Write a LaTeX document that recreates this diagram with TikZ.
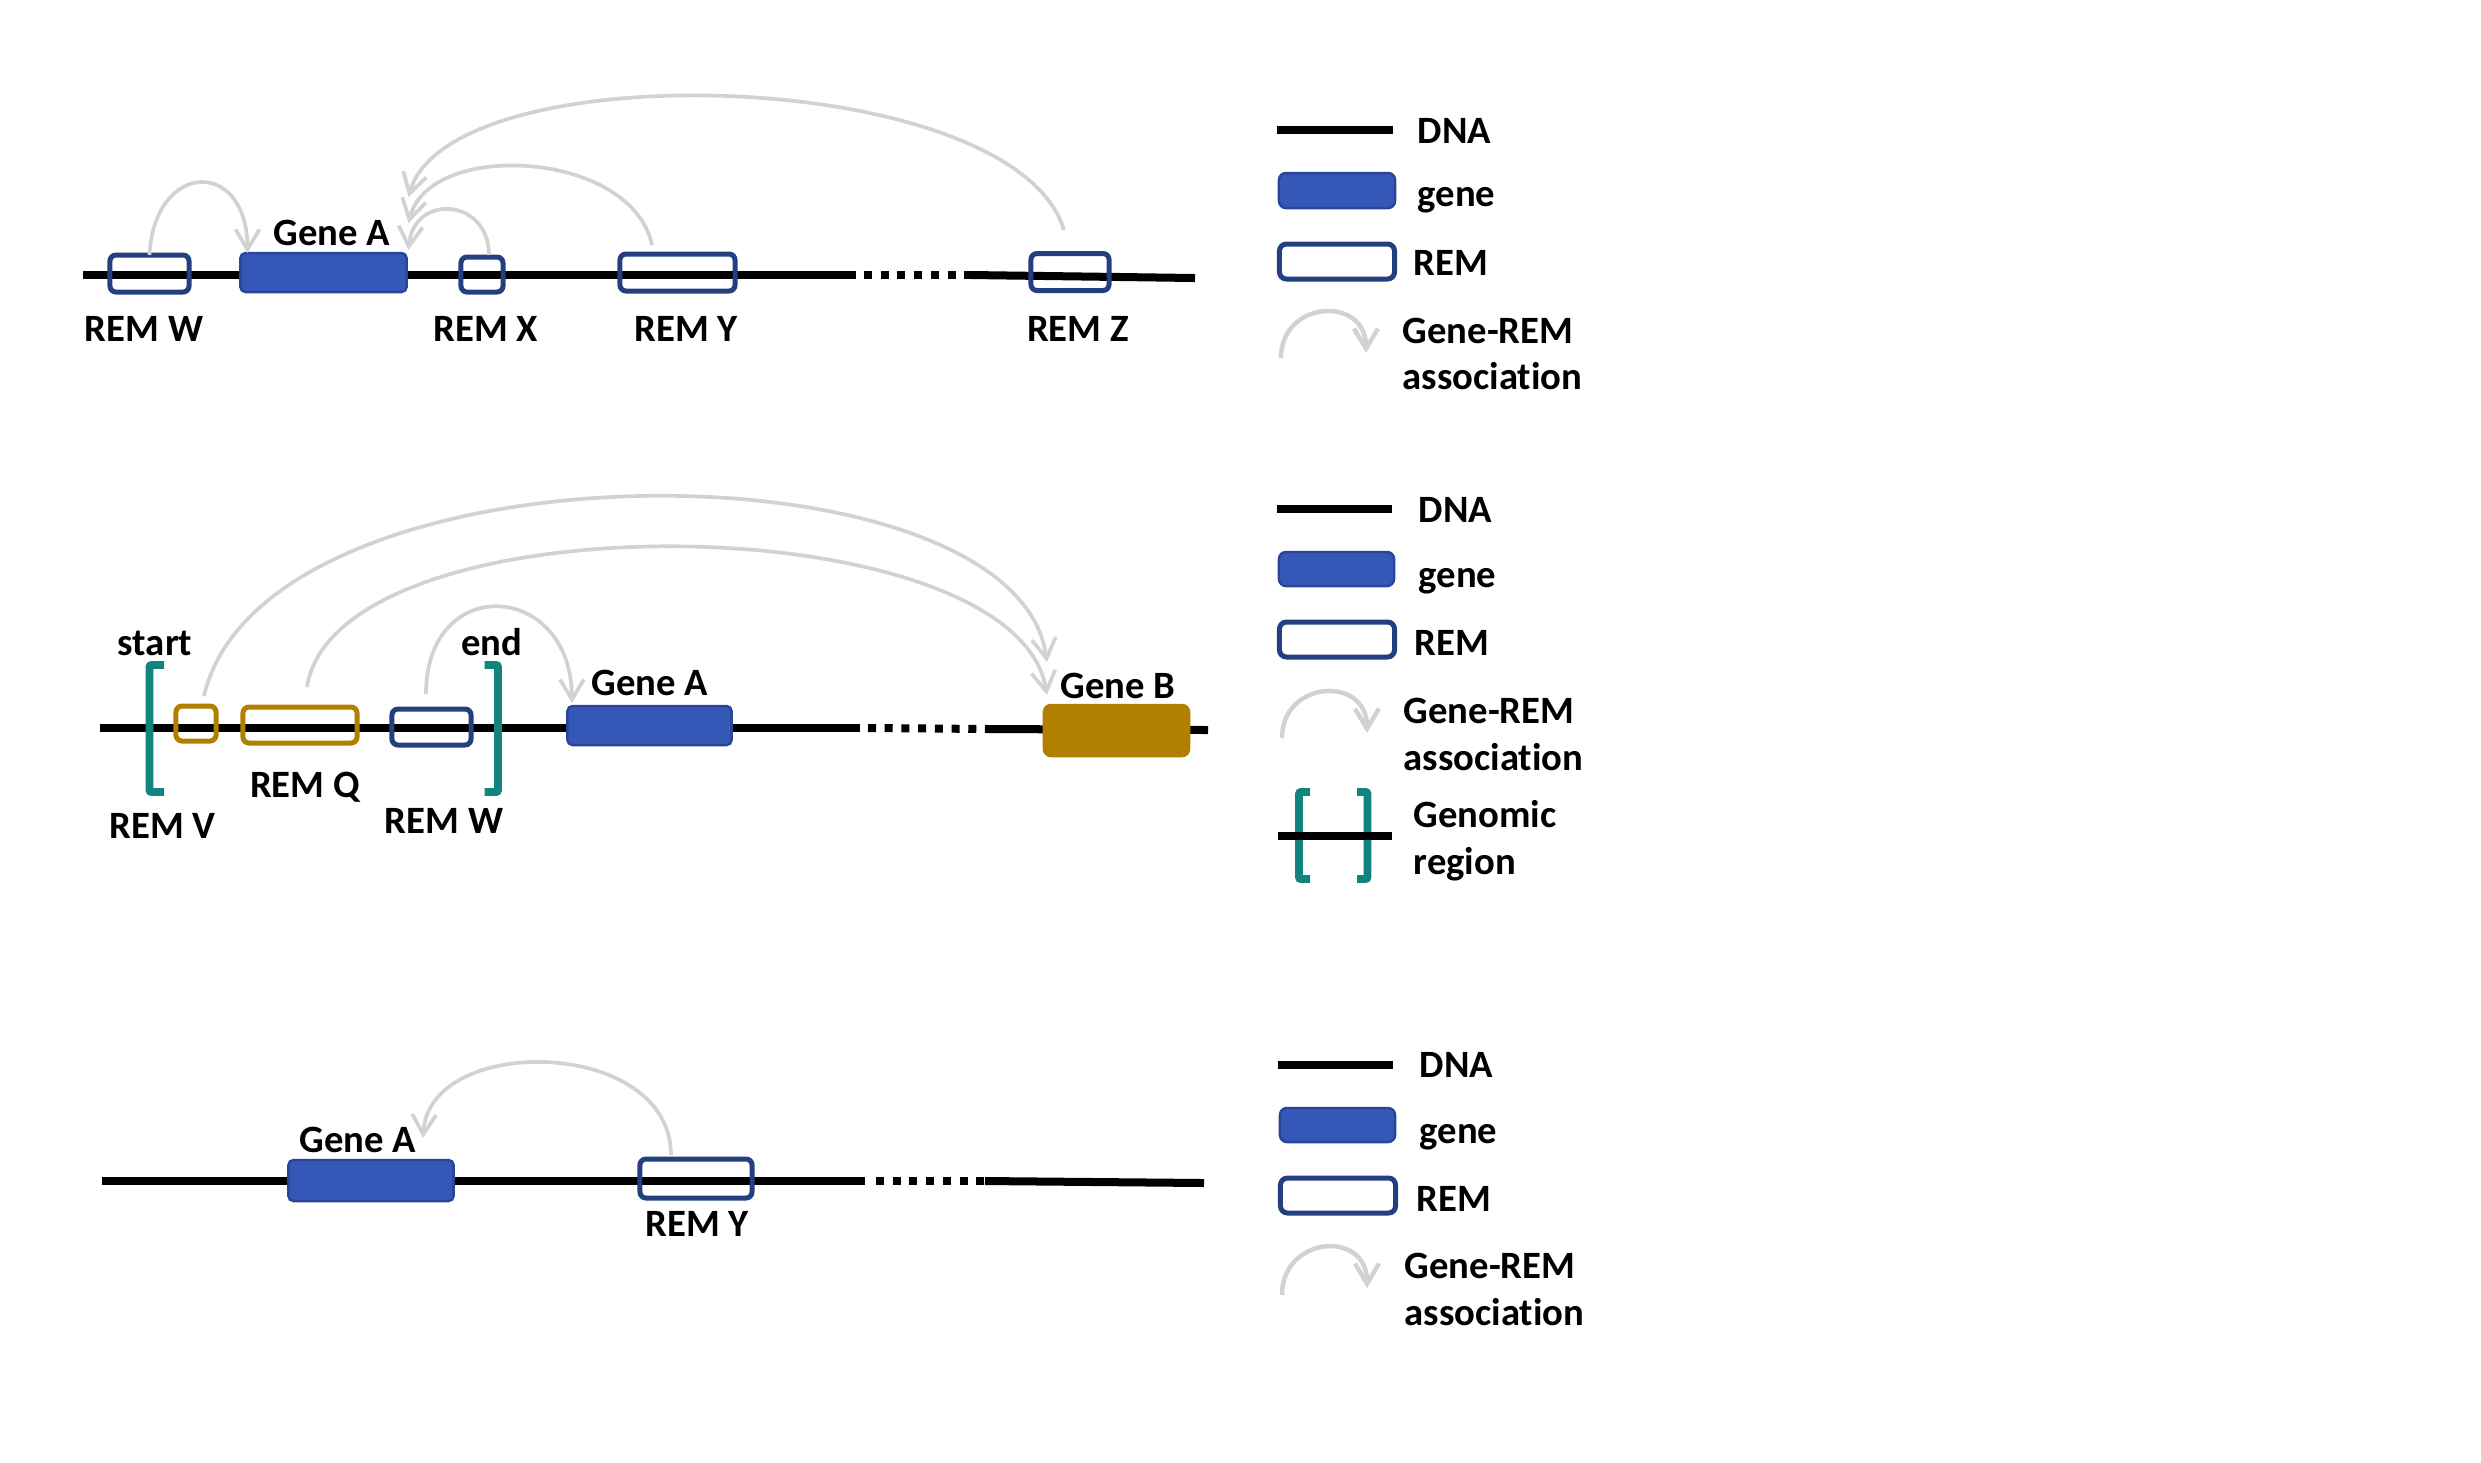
\documentclass[tikz,border=0pt]{standalone}
\usepackage{fontspec}
\setmainfont{Carlito}[Ligatures=NoCommon]
\usetikzlibrary{arrows.meta}
\definecolor{genefill}{RGB}{53,88,184}
\definecolor{genedraw}{RGB}{41,70,150}
\definecolor{remnavy}{RGB}{35,63,127}
\definecolor{remgold}{RGB}{178,128,0}
\definecolor{regionteal}{RGB}{18,132,128}
\definecolor{assocgray}{RGB}{210,210,210}
\tikzset{
	dna/.style={line width=0.08cm, black},
	dnadots/.style={dna, dash pattern=on 0.08cm off 0.087cm},
	genebox/.style={draw=genedraw, fill=genefill, line width=0.025cm, rounded corners=0.05cm, outer sep=0pt, inner sep=0pt},
	rembox/.style={draw=remnavy, line width=0.05cm, rounded corners=0.06cm, outer sep=0pt, inner sep=0pt},
	remgoldbox/.style={rembox, draw=remgold},
	genegoldbox/.style={genebox, draw=remgold, fill=remgold, rounded corners=0.07cm},
	assoc/.style={draw=assocgray, line width=0.037cm, -{Straight Barb[length=0.2cm,width=0.24cm]}},
	keyassoc/.style={assoc, line width=0.045cm},
	region/.style={draw=regionteal, line width=0.078cm, rounded corners=0.02cm},
	lbl/.style={font=\fontsize{11}{13}\selectfont\bfseries, inner sep=0pt, anchor=base},
	keytext/.style={lbl, anchor=base west}
}
\begin{document}
\begin{tikzpicture}[x=0.01cm, y=-0.01cm]
				\useasboundingbox (0,0) rectangle (2481,1462);
				
				\path
				coordinate (dnaA1) at (83,275) coordinate (dnaA2) at (856,275)
				coordinate (dnaA3) at (864,275) coordinate (dnaA4) at (971,275)
				coordinate (dnaA5) at (1195,278);
				\draw[dna] (dnaA1) -- (dnaA2);
				\draw[dnadots] (dnaA3) -- (dnaA4);
				\draw[dna] (dnaA4) -- (dnaA5);
				
				\node[rembox, minimum width=0.79cm, minimum height=0.37cm] (remW1) at (149.5,273.5) {};
				\node[genebox, minimum width=1.66cm, minimum height=0.39cm] (geneA1) at (323.5,272.5) {};
				\node[rembox, minimum width=0.42cm, minimum height=0.35cm] (remX1) at (482,274.5) {};
				\node[rembox, minimum width=1.15cm, minimum height=0.37cm] (remY1) at (677.5,272.5) {};
				\node[rembox, minimum width=0.78cm, minimum height=0.37cm] (remZ1) at (1070,272) {};
				
				\draw[assoc] (remW1.north) .. controls +(5,-95) and +(0,-95) .. ([shift={(7,0)}]geneA1.north west);
				\draw[assoc] ([shift={(7,-2)}]remX1.north) .. controls +(0,-57) and +(5,-57) .. ([shift={(2,-3)}]geneA1.north east);
				\draw[assoc] ([shift={(-25.5,-9)}]remY1.north) .. controls +(-20,-95) and +(20,-84) .. ([shift={(2,-30)}]geneA1.north east);
				\draw[assoc] ([shift={(-6,-23.5)}]remZ1.north) .. controls +(-50,-165) and +(40,-146) .. ([shift={(2,-56)}]geneA1.north east);
				
				\node[lbl] (lblRemW1) at (144,341) {REM W};
				\node[lbl] (lblGeneA1) at (332,245) {Gene A};
				\node[lbl] (lblRemX1) at (486,341) {REM X};
				\node[lbl] (lblRemY1) at (686,341) {REM Y};
				\node[lbl] (lblRemZ1) at (1078,341) {REM Z};
				
				\path
				coordinate (dnaB1) at (100,728) coordinate (dnaB2) at (860,728)
				coordinate (dnaB3) at (868,728) coordinate (dnaB4) at (990,729)
				coordinate (dnaB5) at (1208,730);
				\draw[dna] (dnaB1) -- (dnaB2);
				\draw[dnadots] (dnaB3) -- (dnaB4);
				\draw[dna] (dnaB4) -- (dnaB5);
				
				\draw[region] (164,665) -- (149.5,665) -- (149.5,792) -- (164,792);
				\draw[region] (484.5,665) -- (498,665) -- (498,792) -- (484.5,792);
				
				\node[remgoldbox, minimum width=0.40cm, minimum height=0.35cm] (remV2) at (196,723.5) {};
				\node[remgoldbox, minimum width=1.14cm, minimum height=0.36cm] (remQ2) at (300,725) {};
				\node[rembox, minimum width=0.79cm, minimum height=0.36cm] (remW2) at (431.5,727) {};
				\node[genebox, minimum width=1.64cm, minimum height=0.39cm] (geneA2) at (649.5,725.5) {};
				\node[genegoldbox, minimum width=1.45cm, minimum height=0.51cm] (geneB2) at (1116.5,730.5) {};
				
				\draw[assoc] ([shift={(8,-10)}]remV2.north) .. controls +(60,-260) and +(-30,-226) .. ([shift={(3,-43)}]geneB2.north west);
				\draw[assoc] ([shift={(7,-20)}]remQ2.north) .. controls +(30,-192) and +(-30,-192) .. ([shift={(3,-10)}]geneB2.north west);
				\draw[assoc] ([shift={(-5.5,-15)}]remW2.north) .. controls +(0,-122) and +(0,-122) .. ([shift={(4.5,-3)}]geneA2.north west);
				
				\node[lbl] (lblStart2) at (155,655) {start};
				\node[lbl] (lblEnd2) at (492,655) {end};
				\node[lbl] (lblRemV2) at (162.5,838) {REM V};
				\node[lbl] (lblRemQ2) at (305,797) {REM Q};
				\node[lbl] (lblRemW2) at (444,833) {REM W};
				\node[lbl] (lblGeneA2) at (650,695) {Gene A};
				\node[lbl] (lblGeneB2) at (1118,698) {Gene B};
				
				\path
				coordinate (dnaC1) at (102,1181) coordinate (dnaC2) at (865,1181)
				coordinate (dnaC3) at (876,1181) coordinate (dnaC4) at (985,1181)
				coordinate (dnaC5) at (1204,1183);
				\draw[dna] (dnaC1) -- (dnaC2);
				\draw[dnadots] (dnaC3) -- (dnaC4);
				\draw[dna] (dnaC4) -- (dnaC5);
				
				\node[genebox, minimum width=1.65cm, minimum height=0.41cm] (geneA3) at (371,1180.5) {};
				\node[rembox, minimum width=1.12cm, minimum height=0.39cm] (remY3) at (696,1178.5) {};
				
				\draw[assoc] ([shift={(-25,-4)}]remY3.north) .. controls +(0,-118) and +(5,-105) .. ([shift={(-30.5,-22)}]geneA3.north east);
				
				\node[lbl] (lblGeneA3) at (358,1152) {Gene A};
				\node[lbl] (lblRemY3) at (697,1236) {REM Y};
				
				\path coordinate (keyDnaA1) at (1277,130) coordinate (keyDnaA2) at (1393,130);
				\draw[dna] (keyDnaA1) -- (keyDnaA2);
				\node[keytext] (keyDnaTxtA) at (1417,143) {DNA};
				\node[genebox, rounded corners=0.07cm, minimum width=1.16cm, minimum height=0.35cm] (keyGeneA) at (1337,190.5) {};
				\node[keytext] (keyGeneTxtA) at (1417,206) {gene};
				\node[rembox, rounded corners=0.07cm, minimum width=1.15cm, minimum height=0.35cm] (keyRemA) at (1337,261.5) {};
				\node[keytext] (keyRemTxtA) at (1413,275) {REM};
				\path coordinate (keyAssocA1) at (1281,358) coordinate (keyAssocA2) at (1366,353);
				\draw[keyassoc] (keyAssocA1) .. controls +(0,-58) and +(0,-58) .. (keyAssocA2);
				\node[keytext] (keyAssocTxtA) at (1402,343) {Gene-REM};
				\node[keytext] (keyAssocTxtA2) at (1402,389) {association};
				
				\path coordinate (keyDnaB1) at (1277,509) coordinate (keyDnaB2) at (1392,509);
				\draw[dna] (keyDnaB1) -- (keyDnaB2);
				\node[keytext] (keyDnaTxtB) at (1418,522) {DNA};
				\node[genebox, rounded corners=0.07cm, minimum width=1.15cm, minimum height=0.34cm] (keyGeneB) at (1336.5,569) {};
				\node[keytext] (keyGeneTxtB) at (1418,587) {gene};
				\node[rembox, rounded corners=0.07cm, minimum width=1.15cm, minimum height=0.35cm] (keyRemB) at (1337,639.5) {};
				\node[keytext] (keyRemTxtB) at (1414,655) {REM};
				\path coordinate (keyAssocB1) at (1282,738) coordinate (keyAssocB2) at (1367,733);
				\draw[keyassoc] (keyAssocB1) .. controls +(0,-58) and +(0,-58) .. (keyAssocB2);
				\node[keytext] (keyAssocTxtB) at (1403,723) {Gene-REM};
				\node[keytext] (keyAssocTxtB2) at (1403,770) {association};
				\path coordinate (keyRegionB1) at (1278,836) coordinate (keyRegionB2) at (1392,836);
				\draw[region] (1310,792) -- (1299,792) -- (1299,879) -- (1310,879);
				\draw[region] (1357,792) -- (1367.5,792) -- (1367.5,879) -- (1357,879);
				\draw[dna] (keyRegionB1) -- (keyRegionB2);
				\node[keytext] (keyRegionTxtB) at (1413,827) {Genomic};
				\node[keytext] (keyRegionTxtB2) at (1413,874) {region};
				
				\path coordinate (keyDnaC1) at (1278,1065) coordinate (keyDnaC2) at (1393,1065);
				\draw[dna] (keyDnaC1) -- (keyDnaC2);
				\node[keytext] (keyDnaTxtC) at (1419,1077) {DNA};
				\node[genebox, rounded corners=0.07cm, minimum width=1.15cm, minimum height=0.34cm] (keyGeneC) at (1337.5,1125) {};
				\node[keytext] (keyGeneTxtC) at (1419,1143) {gene};
				\node[rembox, rounded corners=0.07cm, minimum width=1.15cm, minimum height=0.35cm] (keyRemC) at (1338,1195.5) {};
				\node[keytext] (keyRemTxtC) at (1416,1211) {REM};
				\path coordinate (keyAssocC1) at (1282,1295) coordinate (keyAssocC2) at (1367,1288);
				\draw[keyassoc] (keyAssocC1) .. controls +(0,-59) and +(0,-59) .. (keyAssocC2);
				\node[keytext] (keyAssocTxtC) at (1404,1278) {Gene-REM};
				\node[keytext] (keyAssocTxtC2) at (1404,1325) {association};
\end{tikzpicture}
\end{document}
